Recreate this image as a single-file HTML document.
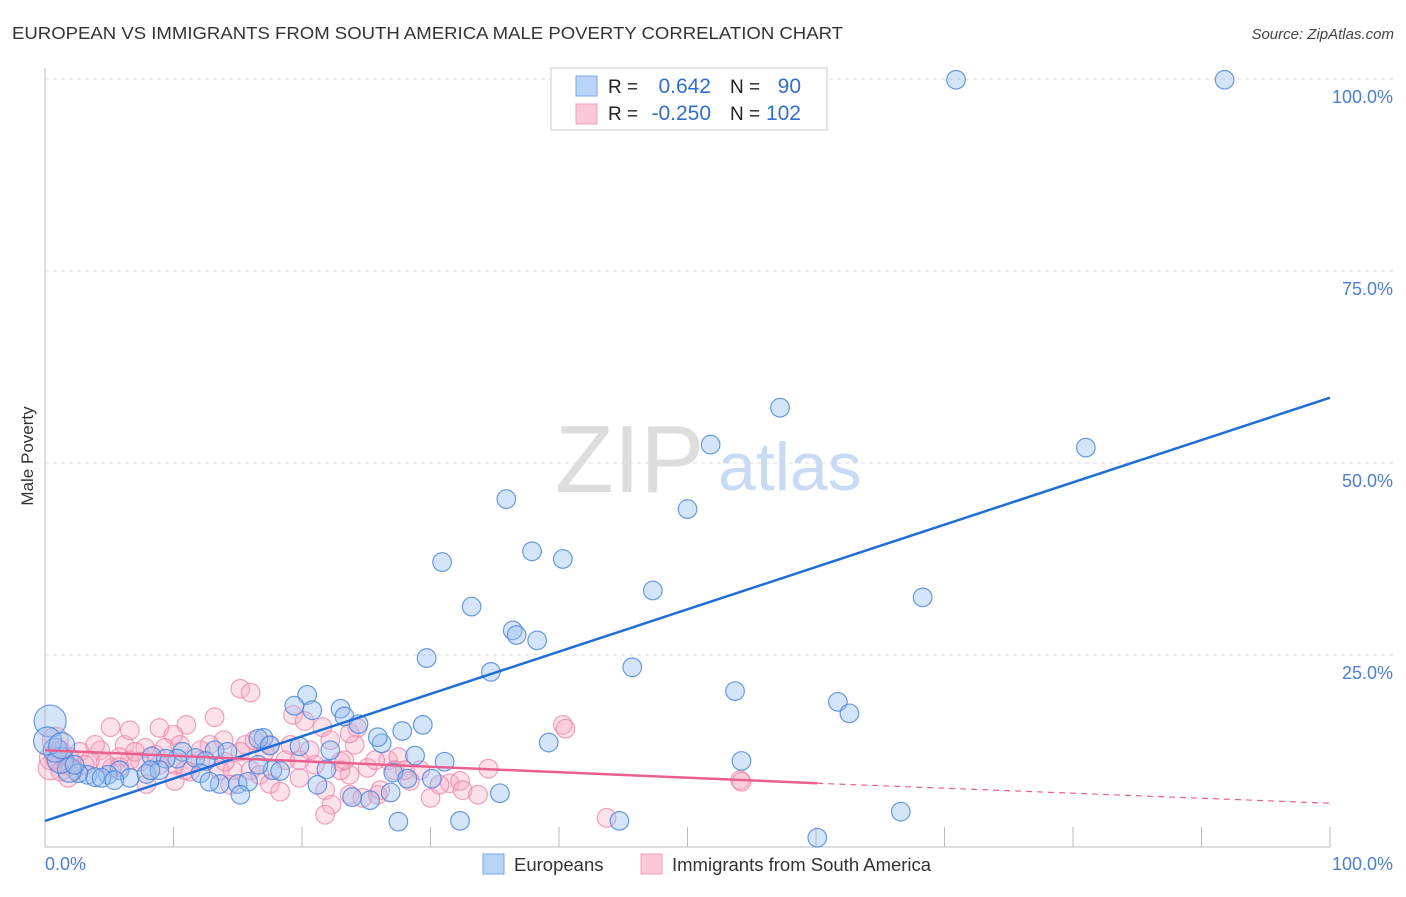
<!DOCTYPE html>
<html><head><meta charset="utf-8"><style>
body{margin:0;background:#fff;font-family:"Liberation Sans",sans-serif;}
svg text{font-family:"Liberation Sans",sans-serif;}
</style></head><body>
<svg id="chart" width="1406" height="892">
<text x="12" y="39" font-size="17.5" fill="#333" textLength="831" lengthAdjust="spacingAndGlyphs">EUROPEAN VS IMMIGRANTS FROM SOUTH AMERICA MALE POVERTY CORRELATION CHART</text>
<text x="1394" y="39" font-size="15" fill="#444" font-style="italic" text-anchor="end">Source: ZipAtlas.com</text>
<text x="33" y="456" font-size="17" fill="#333" text-anchor="middle" transform="rotate(-90 33 456)">Male Poverty</text>
<g id="grid"></g>
<text x="555" y="492" font-size="96" fill="#ddd" font-family="Liberation Serif">ZIP</text>
<text x="718" y="490" font-size="68" fill="#c8daf4">atlas</text>
<g id="pts"></g>
<g id="lines"></g>
<rect x="551" y="68" width="276" height="62" fill="#fff" stroke="#ccc"/>
<rect x="576" y="76" width="21" height="20" fill="#b8d4f6" stroke="#7aa8e8"/>
<rect x="576" y="104" width="21" height="20" fill="#fac8d6" stroke="#f0a0b8"/>
<text x="608" y="93" font-size="19" fill="#222">R =</text>
<text x="711" y="93" font-size="21" fill="#2f6fd0" text-anchor="end">0.642</text>
<text x="730" y="93" font-size="19" fill="#222">N =</text>
<text x="801" y="93" font-size="21" fill="#2f6fd0" text-anchor="end">90</text>
<text x="608" y="120" font-size="19" fill="#222">R =</text>
<text x="711" y="120" font-size="21" fill="#2f6fd0" text-anchor="end">-0.250</text>
<text x="730" y="120" font-size="19" fill="#222">N =</text>
<text x="801" y="120" font-size="21" fill="#2f6fd0" text-anchor="end">102</text>
<text x="45" y="870" font-size="18" fill="#4a7fd4">0.0%</text>
<text x="1393" y="870" font-size="18" fill="#4a7fd4" text-anchor="end">100.0%</text>
<rect x="483" y="854" width="21" height="20" fill="#b8d4f6" stroke="#7aa8e8"/>
<text x="514" y="871" font-size="18.5" fill="#333">Europeans</text>
<rect x="641" y="854" width="21" height="20" fill="#fac8d6" stroke="#f0a0b8"/>
<text x="672" y="871" font-size="18.5" fill="#333">Immigrants from South America</text>
</svg>
<script>
const yTicks=[25,50,75,100];
const yTickLabels=["25.0%","50.0%","75.0%","100.0%"];
const blueTrend=[3.4,58.5];
const pinkTrend=[12.6,8.3,5.7];
const pinkSolidEnd=60.1;
const bluePts=[[70.9,99.9],[91.8,99.9],[57.2,57.2],[51.8,52.4],[81.0,52.0],[35.9,45.3],[50.0,44.0],[37.9,38.5],[40.3,37.5],[30.9,37.1],[47.3,33.4],[33.2,31.3],[68.3,32.5],[36.4,28.2],[36.7,27.6],[38.3,26.9],[29.7,24.6],[34.7,22.8],[45.7,23.4],[53.7,20.3],[20.4,19.8],[19.4,18.4],[20.8,17.8],[23.0,18.0],[23.3,17.0],[61.7,18.9],[62.6,17.4],[24.4,16.0],[29.4,15.9],[27.8,15.1],[26.2,13.5],[25.9,14.3],[17.0,14.2],[16.6,14.1],[39.2,13.6],[54.2,11.2],[28.8,11.9],[31.1,11.1],[13.2,12.6],[14.2,12.4],[17.5,13.2],[22.2,12.6],[19.8,13.1],[10.7,12.4],[10.3,11.5],[9.4,11.5],[8.3,11.8],[11.7,11.6],[12.5,11.2],[5.8,10.0],[4.9,9.4],[3.3,9.4],[3.9,9.1],[4.4,9.0],[2.6,9.6],[1.9,10.0],[1.2,11.3],[0.8,12.6],[0.4,16.4],[0.2,13.8],[1.3,13.2],[2.3,10.7],[6.6,9.0],[7.9,9.5],[12.1,9.6],[13.6,8.2],[15.0,8.2],[12.8,8.5],[15.8,8.5],[17.7,10.0],[18.3,9.9],[21.9,10.1],[21.2,8.1],[27.1,9.7],[28.2,8.9],[30.1,8.9],[23.9,6.5],[25.3,6.1],[26.9,7.1],[35.4,7.0],[32.3,3.4],[27.5,3.3],[44.7,3.4],[60.1,1.2],[66.6,4.6],[15.2,6.8],[8.9,10.0],[5.4,8.7],[16.6,10.7],[8.2,10.0]];
const blueSizes=[[58,16],[59,14],[60,13],[56,13],[57,12],[55,12]];
const pinkPts=[[15.2,20.6],[16.0,20.1],[11.0,15.9],[5.1,15.6],[13.2,16.9],[8.9,15.5],[10.0,14.6],[13.9,13.9],[19.3,17.2],[20.2,16.4],[21.6,15.6],[24.3,15.5],[40.3,15.9],[40.5,15.4],[24.1,13.3],[22.2,13.9],[17.5,13.3],[15.6,13.3],[6.2,13.3],[7.8,12.9],[4.3,12.6],[2.7,12.4],[1.2,12.6],[0.8,11.3],[1.6,10.7],[3.5,11.3],[6.6,11.3],[8.6,12.0],[10.1,10.7],[12.1,11.3],[13.6,10.0],[16.0,10.0],[16.7,9.4],[18.7,11.3],[21.0,10.7],[23.0,11.1],[25.1,10.3],[26.7,11.3],[27.5,11.7],[29.2,10.0],[31.5,8.3],[32.3,8.6],[34.5,10.2],[23.7,9.4],[19.8,9.0],[17.5,8.2],[18.3,7.2],[14.6,10.0],[11.3,9.8],[7.9,8.2],[10.1,8.6],[5.2,10.3],[2.3,10.0],[0.4,10.3],[0.5,11.6],[1.9,11.7],[5.8,11.7],[7.0,12.4],[9.3,12.9],[12.8,13.3],[15.2,12.4],[17.1,12.4],[21.8,7.4],[22.3,5.5],[21.8,4.2],[23.7,6.8],[24.7,6.4],[25.9,6.8],[28.4,8.6],[30.0,6.4],[26.1,7.4],[54.1,8.7],[54.2,8.5],[43.7,3.8],[32.5,7.4],[33.7,6.8],[27.2,10.0],[23.0,10.0],[4.7,10.9],[3.1,10.7],[3.9,13.3],[10.9,10.0],[12.1,12.6],[14.0,11.1],[16.3,13.9],[19.1,13.3],[20.6,12.6],[23.3,11.3],[25.7,11.3],[28.0,10.0],[30.7,8.1],[19.8,11.3],[8.9,10.7],[7.4,11.1],[5.8,10.4],[1.2,9.8],[1.8,9.0],[14.4,8.1],[10.5,13.3],[6.6,15.2],[23.7,14.8],[0.8,13.9]];
const pinkSizes=[[101,13],[53,12],[54,12]];
const NS="http://www.w3.org/2000/svg";
const X=v=>45+v*12.85, Y=v=>847-v*7.68;
function mk(t,a,p){const e=document.createElementNS(NS,t);for(const k in a)e.setAttribute(k,a[k]);p.appendChild(e);return e;}
const grid=document.getElementById('grid');
const ax=mk('line',{x1:45,y1:68,x2:45,y2:847,stroke:'#bbb'},grid);


const bx=mk('line',{x1:45,y1:847,x2:1330,y2:847,stroke:'#bbb'},grid);


yTicks.forEach((t,i)=>{
 const g=mk('line',{x1:45,y1:Y(t),x2:1393,y2:Y(t),stroke:'#ddd','stroke-dasharray':'4,4'},grid);
 
 
 const tx=mk('text',{x:1393,y:Y(t)+24,'font-size':18,fill:'#4a7fd4','text-anchor':'end'},grid);
 tx.textContent=yTickLabels[i];
 
 
});
for(let k=1;k<=10;k++){const tk=mk('line',{x1:X(k*10),y1:827,x2:X(k*10),y2:847,stroke:'#bbb'},grid);
 
 }
const pts=document.getElementById('pts');
const bs={};blueSizes.forEach(s=>bs[s[0]]=s[1]);
const ps={};pinkSizes.forEach(s=>ps[s[0]]=s[1]);
pinkPts.forEach((p,i)=>{const c=mk('circle',{cx:X(p[0]),cy:Y(p[1]),r:ps[i]||9.3,fill:'rgba(248,170,195,0.35)',stroke:'rgba(236,130,165,0.75)','stroke-width':1.2},pts);
 
 });
bluePts.forEach((p,i)=>{const c=mk('circle',{cx:X(p[0]),cy:Y(p[1]),r:bs[i]||9.3,fill:'rgba(150,190,240,0.4)',stroke:'rgba(70,130,220,0.8)','stroke-width':1.2},pts);
 
 });
const L=document.getElementById('lines');
const bl=mk('line',{x1:X(0),y1:Y(blueTrend[0]),x2:X(100),y2:Y(blueTrend[1]),stroke:'#1f6ed6','stroke-width':2.5},L);


const pl=mk('line',{x1:X(0),y1:Y(pinkTrend[0]),x2:X(pinkSolidEnd),y2:Y(pinkTrend[1]),stroke:'#e8608e','stroke-width':2.5},L);


const pd=mk('line',{x1:X(pinkSolidEnd),y1:Y(pinkTrend[1]),x2:X(100),y2:Y(pinkTrend[2]),stroke:'#e8608e','stroke-width':1.2,'stroke-dasharray':'6,5'},L);


</script>
</body></html>
